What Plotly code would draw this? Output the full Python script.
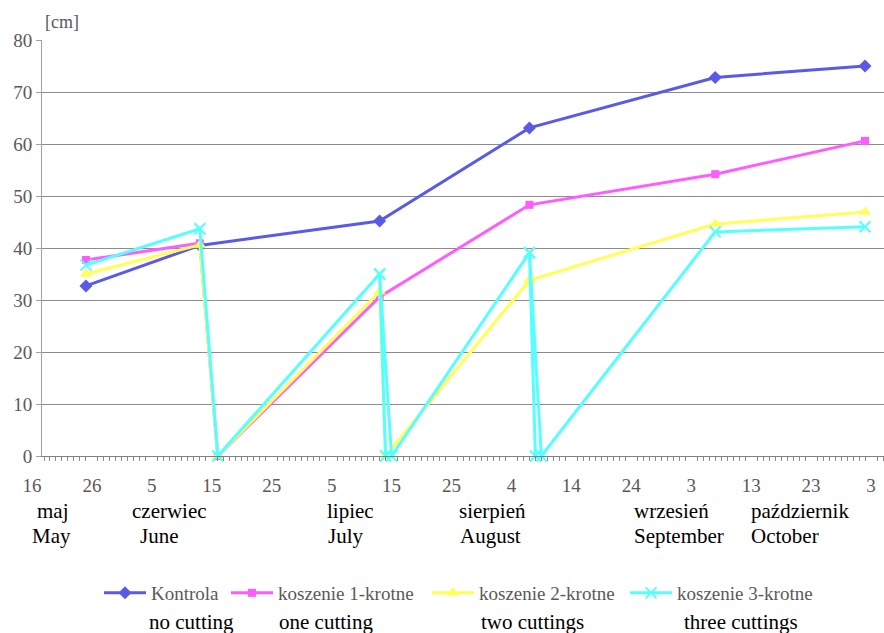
import plotly.graph_objects as go

# ---- data -------------------------------------------------------------
series_names = ["Kontrola", "koszenie 1-krotne", "koszenie 2-krotne", "koszenie 3-krotne"]
series_en = ["no cutting", "one cutting", "two cuttings", "three cuttings"]

kontrola_dates = ["2009-05-25", "2009-06-13", "2009-07-13", "2009-08-07", "2009-09-07", "2009-10-02"]
kontrola_cm = [32.7, 40.5, 45.2, 63.1, 72.8, 75.0]

kosz1_dates = ["2009-05-25", "2009-06-13", "2009-06-16", "2009-07-13", "2009-08-07", "2009-09-07", "2009-10-02"]
kosz1_cm = [37.7, 40.9, 0.0, 30.6, 48.3, 54.2, 60.6]

kosz2_dates = ["2009-05-25", "2009-06-13", "2009-06-16", "2009-07-13", "2009-07-14", "2009-08-07", "2009-09-07", "2009-10-02"]
kosz2_cm = [35.0, 40.6, 0.0, 31.6, 0.0, 33.8, 44.6, 46.9]

kosz3_dates = ["2009-05-25", "2009-06-13", "2009-06-16", "2009-07-13", "2009-07-14", "2009-07-13", "2009-07-15",
               "2009-08-07", "2009-08-08", "2009-08-07", "2009-08-09", "2009-09-07", "2009-10-02"]
kosz3_cm = [36.7, 43.7, 0.0, 35.0, 0.0, 35.0, 0.0, 39.1, 0.0, 39.1, 0.0, 43.1, 44.1]

tick_dates = ["2009-05-16", "2009-05-26", "2009-06-05", "2009-06-15", "2009-06-25", "2009-07-05", "2009-07-15",
              "2009-07-25", "2009-08-04", "2009-08-14", "2009-08-24", "2009-09-03", "2009-09-13", "2009-09-23",
              "2009-10-03"]
tick_labels = ["16", "26", "5", "15", "25", "5", "15", "25", "4", "14", "24", "3", "13", "23", "3"]

months_pl = ["maj", "czerwiec", "lipiec", "sierpień", "wrzesień", "październik"]
months_en = ["May", "June", "July", "August", "September", "October"]

y_ticks = [0, 10, 20, 30, 40, 50, 60, 70, 80]

# ---- layout helpers (pixel geometry of the page) ----------------------
W, H = 884, 633
ML, MT, MB = 32, 40, 177
PW, PH = W - ML, H - MT - MB


def px_x(px):
    return (px - ML) / PW


def px_y(py):
    return (H - MB - py) / PH


SERIF = "Liberation Serif"
GREY_TXT = "#595959"

colors = ["#5A5AE6", "#FF5CFF", "#FFFF55", "#55FFFF"]
symbols = ["diamond", "square", "triangle-up", "x-thin"]
msizes = [10, 8, 11, 11]

fig = go.Figure()
data = [(kontrola_dates, kontrola_cm), (kosz1_dates, kosz1_cm), (kosz2_dates, kosz2_cm), (kosz3_dates, kosz3_cm)]
legend_ids = ["legend", "legend2", "legend3", "legend4"]
for i, (xs, ys) in enumerate(data):
    fig.add_trace(go.Scatter(
        x=xs, y=ys, name=series_names[i], mode="lines+markers",
        line=dict(color=colors[i], width=3),
        marker=dict(symbol=symbols[i], size=msizes[i], color=colors[i],
                    line=dict(color=colors[i], width=2 if symbols[i] == "x-thin" else 0)),
        legend=legend_ids[i], cliponaxis=False,
    ))

# label-only axis carrying the day numbers
fig.add_trace(go.Scatter(x=tick_dates, y=[0] * len(tick_dates), mode="none",
                         xaxis="x2", yaxis="y2", showlegend=False, hoverinfo="skip"))

fig.update_layout(
    width=W, height=H,
    margin=dict(l=ML, r=0, t=MT, b=MB),
    paper_bgcolor="white", plot_bgcolor="rgba(0,0,0,0)",
    font=dict(family=SERIF, size=19, color=GREY_TXT),
    xaxis=dict(
        type="date", domain=[px_x(42), 1], anchor="y",
        range=["2009-05-17 16:00", "2009-10-05 04:00"],
        showgrid=False, zeroline=False, showticklabels=False,
        showline=True, linecolor="#808080", linewidth=1,
        ticks="", dtick=10 * 86400000, tick0="2009-05-16",
        minor=dict(ticks="outside", ticklen=4, tickcolor="#8a8a8a", dtick=86400000,
                   tick0="2009-05-16", showgrid=False),
    ),
    xaxis2=dict(
        type="date", domain=[0, 1], anchor="y2",
        range=["2009-05-16", "2009-10-05 04:00"],
        tickmode="array", tickvals=tick_dates, ticktext=tick_labels,
        showgrid=False, zeroline=False, showline=False, ticks="",
        ticklabelstandoff=16,
        tickfont=dict(family=SERIF, size=19, color=GREY_TXT),
    ),
    yaxis=dict(
        range=[0, 80], tickvals=y_ticks, anchor="x", domain=[0, 1],
        showgrid=True, gridcolor="#8c8c8c", gridwidth=1,
        zeroline=False, showline=True, linecolor="#a0a0a0", linewidth=1,
        ticks="outside", ticklen=5, tickcolor="#a0a0a0",
        tickfont=dict(family=SERIF, size=19, color=GREY_TXT),
    ),
    yaxis2=dict(range=[0, 80], anchor="x2", domain=[0, 1], visible=False),
)

# one legend box per series, laid out along the bottom row
legend_px = [109, 236, 437, 635]
for lid, lx in zip(legend_ids, legend_px):
    fig.update_layout({lid: dict(
        x=px_x(lx - 10), y=px_y(593), xanchor="left", yanchor="middle",
        orientation="h", bgcolor="rgba(0,0,0,0)", borderwidth=0,
        font=dict(family=SERIF, size=19, color=GREY_TXT), itemwidth=42,
    )})

annotations = [dict(text="[cm]", x=px_x(43), y=px_y(22), xref="paper", yref="paper",
                    xanchor="left", yanchor="middle", showarrow=False,
                    font=dict(family=SERIF, size=18, color=GREY_TXT))]

month_pl_px = [35, 130, 325, 457, 632, 749]
month_en_px = [30, 138, 326, 458, 632, 749]
for name, lx in zip(months_pl, month_pl_px):
    annotations.append(dict(text=name, x=px_x(lx), y=px_y(511), xref="paper", yref="paper",
                            xanchor="left", yanchor="middle", showarrow=False,
                            font=dict(family=SERIF, size=21, color="black")))
for name, lx in zip(months_en, month_en_px):
    annotations.append(dict(text=name, x=px_x(lx), y=px_y(536), xref="paper", yref="paper",
                            xanchor="left", yanchor="middle", showarrow=False,
                            font=dict(family=SERIF, size=21, color="black")))

en_px = [147, 277, 479, 682]
for name, lx in zip(series_en, en_px):
    annotations.append(dict(text=name, x=px_x(lx), y=px_y(622), xref="paper", yref="paper",
                            xanchor="left", yanchor="middle", showarrow=False,
                            font=dict(family=SERIF, size=21, color="black")))

fig.update_layout(annotations=annotations)

fig.write_html("out.html")
